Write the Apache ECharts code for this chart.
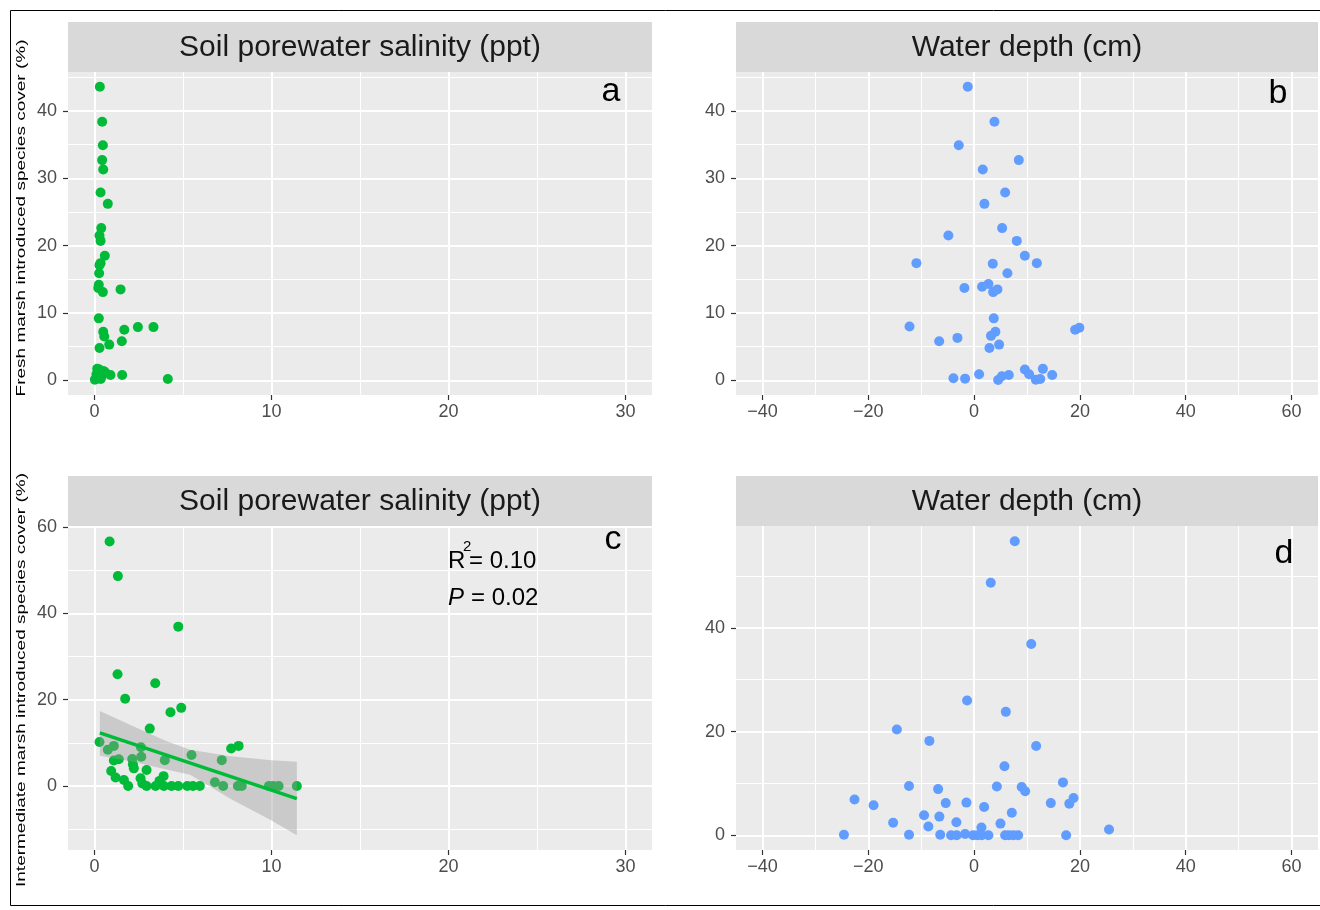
<!DOCTYPE html>
<html>
<head>
<meta charset="utf-8">
<script src="https://cdn.jsdelivr.net/npm/echarts@6.0.0/dist/echarts.min.js"></script>
<style>
html, body { margin: 0; padding: 0; background: #fff; }
#chart { width: 1320px; height: 910px; }
</style>
</head>
<body>
<div id="chart"></div>
<script>
// panel a: fresh marsh vs salinity
var saltA = [0.30, 0.43, 0.47, 0.43, 0.49, 0.34, 0.75, 0.38, 0.28, 0.34, 0.58, 0.34, 0.28, 0.26, 0.24, 0.21, 0.47, 1.47, 0.24, 1.68,
	2.45, 3.33, 0.49, 0.55, 0.83, 1.54, 0.28, 0.90, 1.56, 4.14, 0.27, 0.11, 0.02, 0.40, 0.49, 0.20, 0.60, 0.35, 0.15];
var coverA = [43.6, 38.4, 34.9, 32.7, 31.3, 27.9, 26.2, 22.6, 21.5, 20.7, 18.5, 17.4, 17.1, 15.9, 14.2, 13.7, 13.1, 13.5, 9.2, 7.5,
	7.9, 7.9, 7.2, 6.5, 5.3, 5.8, 4.8, 0.8, 0.8, 0.2, 1.6, 0.9, 0.1, 0.6, 1.4, 0.3, 1.2, 0.2, 1.7];

// panel b: fresh marsh vs water depth
var depthB = [-1.2, 3.85, -2.9, 8.45, 1.64, 5.87, 1.95, 5.3, -4.86, 8.07, 9.59, -10.9, 3.53, 11.86, 6.3, -1.83, 1.51, 2.71, 3.6, 4.41,
	3.72, -12.2, 19.1, 19.9, 4.03, 3.2, -3.15, -6.6, 4.73, 2.9, -3.9, -1.7, 0.95, 4.54, 5.24, 6.56, 9.59, 10.4, 11.67, 12.5, 13.0, 14.76];
var coverB = [43.6, 38.4, 34.9, 32.7, 31.3, 27.9, 26.2, 22.6, 21.5, 20.7, 18.5, 17.4, 17.3, 17.4, 15.9, 13.7, 13.9, 14.3, 13.1, 13.5,
	9.2, 8.0, 7.5, 7.8, 7.2, 6.6, 6.3, 5.8, 5.3, 4.8, 0.3, 0.25, 0.9, 0.05, 0.6, 0.8, 1.6, 0.9, 0.1, 0.2, 1.7, 0.8];

// panel c: intermediate marsh vs salinity
var saltC = [0.85, 1.32, 4.73, 1.30, 3.43, 1.73, 4.29, 4.9, 3.12, 0.28, 0.75, 1.09, 2.62, 2.64, 1.09, 1.37, 2.13, 3.97, 5.48, 7.19,
	7.72, 8.14, 2.17, 2.22, 2.94, 0.94, 1.19, 1.66, 1.9, 2.6, 2.7, 2.94, 3.9, 3.67, 3.45, 3.92, 4.35, 4.73, 5.24, 5.56,
	5.95, 6.8, 7.27, 8.1, 8.32, 9.85, 10.1, 10.4, 11.43];
var coverC = [56.6, 48.6, 36.9, 25.9, 23.8, 20.2, 17.1, 18.1, 13.3, 10.2, 8.4, 9.3, 9.0, 6.8, 5.9, 6.2, 6.25, 6.0, 7.2, 6.0,
	8.7, 9.3, 5.0, 4.1, 3.7, 3.5, 2.0, 1.4, 0, 1.8, 0.6, 0, 2.3, 1.2, 0, 0, 0, 0, 0, 0,
	0, 0.9, 0, 0, 0, 0, 0, 0, 0];

// fitted line and its confidence band (panel c)
var fitX = [0.3, 11.43];
var fitY = [12.3, -2.9];
var ribbonX = [0.3, 2, 4, 5.4, 7.7, 10, 11.43];
var ribbonHi = [17.4, 14.2, 10.5, 8.4, 6.9, 6.0, 5.6];
var ribbonLo = [7.0, 5.8, 3.9, 2.6, -3.0, -8.0, -11.4];

// panel d: intermediate marsh vs water depth
var depthD = [7.69, 3.15, 10.8, -1.32, 6.0, -14.6, -8.45, 11.73, 5.74, -12.3, -6.8, 4.3, 9.0, 9.65, 16.8, -22.6, -19.0, -5.36, -1.45, 1.9,
	14.5, 18.0, 18.8, -15.3, -9.46, -6.56, -8.64, -3.35, 7.13, 4.98, 1.39, 25.5, -24.6, -12.3, -6.4, -4.35, -3.28, -1.7, -0.19, 0.63,
	1.45, 2.7, 5.87, 6.6, 7.44, 8.33, 17.4];
var coverD = [56.7, 48.7, 36.9, 26.0, 23.8, 20.4, 18.2, 17.2, 13.3, 9.5, 8.9, 9.4, 9.3, 8.5, 10.2, 6.9, 5.8, 6.2, 6.3, 5.45,
	6.2, 6.1, 7.2, 2.4, 3.85, 3.6, 1.7, 2.5, 4.35, 2.25, 1.5, 1.1, 0.1, 0.1, 0.1, 0, 0, 0.25, 0, 0,
	0, 0, 0, 0, 0, 0, 0];

// tick labels
var ticksSalt = [0, 10, 20, 30];
var ticksDepth = [-40, -20, 0, 20, 40, 60];
var ticksA = [0, 10, 20, 30, 40];
var ticksC = [0, 20, 40, 60];
var ticksD = [0, 20, 40];

var stripTitles = ['Soil porewater salinity (ppt)', 'Water depth (cm)', 'Soil porewater salinity (ppt)', 'Water depth (cm)'];
var panelLetters = ['a', 'b', 'c', 'd'];
var yTitles = ['Fresh marsh introduced species cover (%)', 'Intermediate marsh introduced species cover (%)'];

var GREEN = '#00BA38';
var BLUE = '#619CFF';
var FONT = 'Liberation Sans, Arial, sans-serif';

function pairs(xs, ys) {
	var out = [];
	for (var i = 0; i < xs.length; i++) out.push([xs[i], ys[i]]);
	return out;
}

function fmt(v) {
	return String(v).replace('-', '\u2212');
}

function axis(grid, min, max, step, ticks, isX) {
	return {
		type: 'value', gridIndex: grid, min: min, max: max, z: 1,
		minInterval: step, maxInterval: step, splitNumber: 3,
		axisLine: { show: false, onZero: false },
		axisTick: { show: true, length: 5, customValues: ticks, lineStyle: { color: '#333', width: 1.2 } },
		axisLabel: {
			color: '#4d4d4d', fontSize: 18, fontFamily: FONT, margin: isX ? 8 : 11,
			customValues: ticks, formatter: fmt
		},
		splitLine: { show: true, lineStyle: { color: '#fff', width: 2 } },
		minorTick: { show: false, splitNumber: 2 },
		minorSplitLine: { show: true, lineStyle: { color: '#fff', width: 1 } }
	};
}

var grids = [
	{ left: 68, top: 72, width: 584, height: 323 },
	{ left: 736, top: 72, width: 582, height: 323 },
	{ left: 68, top: 526, width: 584, height: 324 },
	{ left: 736, top: 526, width: 582, height: 324 }
];
var graphic = [];
// panel backgrounds drawn behind the axes
grids.forEach(function(g) {
	graphic.push({ type: 'rect', z: -10, shape: { x: g.left, y: g.top, width: g.width, height: g.height }, style: { fill: '#ebebeb' } });
});
graphic.push({ type: 'rect', shape: { x: 10.5, y: 10.5, width: 1330, height: 895 }, style: { fill: 'none', stroke: '#000', lineWidth: 1 } });
grids.forEach(function(g, i) {
	graphic.push({ type: 'rect', shape: { x: g.left, y: g.top - 50, width: g.width, height: 50 }, style: { fill: '#d9d9d9' } });
	graphic.push({
		type: 'text', x: g.left + g.width / 2, y: g.top - 24, z: 100,
		style: { text: stripTitles[i], fontSize: 30, fontFamily: FONT, fill: '#1a1a1a', align: 'center', verticalAlign: 'middle' }
	});
});
var letterPos = [[611, 92], [1278, 94], [613, 540], [1284, 554]];
letterPos.forEach(function(p, i) {
	graphic.push({
		type: 'text', x: p[0], y: p[1], z: 100,
		style: { text: panelLetters[i], fontSize: 34, fontFamily: FONT, fill: '#000', align: 'center', verticalAlign: 'middle' }
	});
});
graphic.push({ type: 'text', x: 21, y: 218, rotation: Math.PI / 2, scaleY: 0.7, z: 100,
	style: { text: yTitles[0], fontSize: 19, fontFamily: FONT, fill: '#000', align: 'center', verticalAlign: 'middle' } });
graphic.push({ type: 'text', x: 21, y: 680, rotation: Math.PI / 2, scaleY: 0.7, z: 100,
	style: { text: yTitles[1], fontSize: 19, fontFamily: FONT, fill: '#000', align: 'center', verticalAlign: 'middle' } });

// R2 and P annotation
graphic.push({ type: 'text', x: 448, y: 561, z: 100, style: { text: 'R', fontSize: 24, fontFamily: FONT, fill: '#000', verticalAlign: 'middle' } });
graphic.push({ type: 'text', x: 463, y: 547, z: 100, style: { text: '2', fontSize: 15, fontFamily: FONT, fill: '#000', verticalAlign: 'middle' } });
graphic.push({ type: 'text', x: 469, y: 561, z: 100, style: { text: '= 0.10', fontSize: 24, fontFamily: FONT, fill: '#000', verticalAlign: 'middle' } });
graphic.push({ type: 'text', x: 448, y: 598, z: 100, style: { text: 'P', fontSize: 24, fontStyle: 'italic', fontFamily: FONT, fill: '#000', verticalAlign: 'middle' } });
graphic.push({ type: 'text', x: 471, y: 598, z: 100, style: { text: '= 0.02', fontSize: 24, fontFamily: FONT, fill: '#000', verticalAlign: 'middle' } });

var chart = echarts.init(document.getElementById('chart'));
var option = {
	animation: false,
	backgroundColor: '#fff',
	grid: grids,
	xAxis: [
		axis(0, -1.5, 31.5, 10, ticksSalt, true),
		axis(1, -45, 65, 20, ticksDepth, true),
		axis(2, -1.5, 31.5, 10, ticksSalt, true),
		axis(3, -45, 65, 20, ticksDepth, true)
	],
	yAxis: [
		axis(0, -2.18, 45.78, 10, ticksA, false),
		axis(1, -2.18, 45.78, 10, ticksA, false),
		axis(2, -14.8, 60.2, 20, ticksC, false),
		axis(3, -2.84, 59.64, 20, ticksD, false)
	],
	graphic: graphic,
	series: [
		{ type: 'scatter', xAxisIndex: 0, yAxisIndex: 0, data: pairs(saltA, coverA), symbolSize: 10, itemStyle: { color: GREEN, opacity: 1 }, z: 2 },
		{ type: 'scatter', xAxisIndex: 1, yAxisIndex: 1, data: pairs(depthB, coverB), symbolSize: 10, itemStyle: { color: BLUE, opacity: 1 }, z: 2 },
		{ type: 'scatter', xAxisIndex: 2, yAxisIndex: 2, data: pairs(saltC, coverC), symbolSize: 10, itemStyle: { color: GREEN, opacity: 1 }, z: 2 },
		{ type: 'scatter', xAxisIndex: 3, yAxisIndex: 3, data: pairs(depthD, coverD), symbolSize: 10, itemStyle: { color: BLUE, opacity: 1 }, z: 2 },
		{
			type: 'custom', xAxisIndex: 2, yAxisIndex: 2, z: 3, silent: true,
			data: [[ribbonX[0], ribbonHi[0]]],
			renderItem: function(params, api) {
				var pts = [];
				for (var i = 0; i < ribbonX.length; i++) pts.push(api.coord([ribbonX[i], ribbonHi[i]]));
				for (var j = ribbonX.length - 1; j >= 0; j--) pts.push(api.coord([ribbonX[j], ribbonLo[j]]));
				return { type: 'polygon', shape: { points: pts }, style: { fill: 'rgba(153,153,153,0.4)' } };
			}
		},
		{
			type: 'line', xAxisIndex: 2, yAxisIndex: 2, z: 4, silent: true,
			data: pairs(fitX, fitY), symbol: 'none',
			lineStyle: { color: GREEN, width: 3.5 }
		}
	]
};
chart.setOption(option);
</script>
</body>
</html>
